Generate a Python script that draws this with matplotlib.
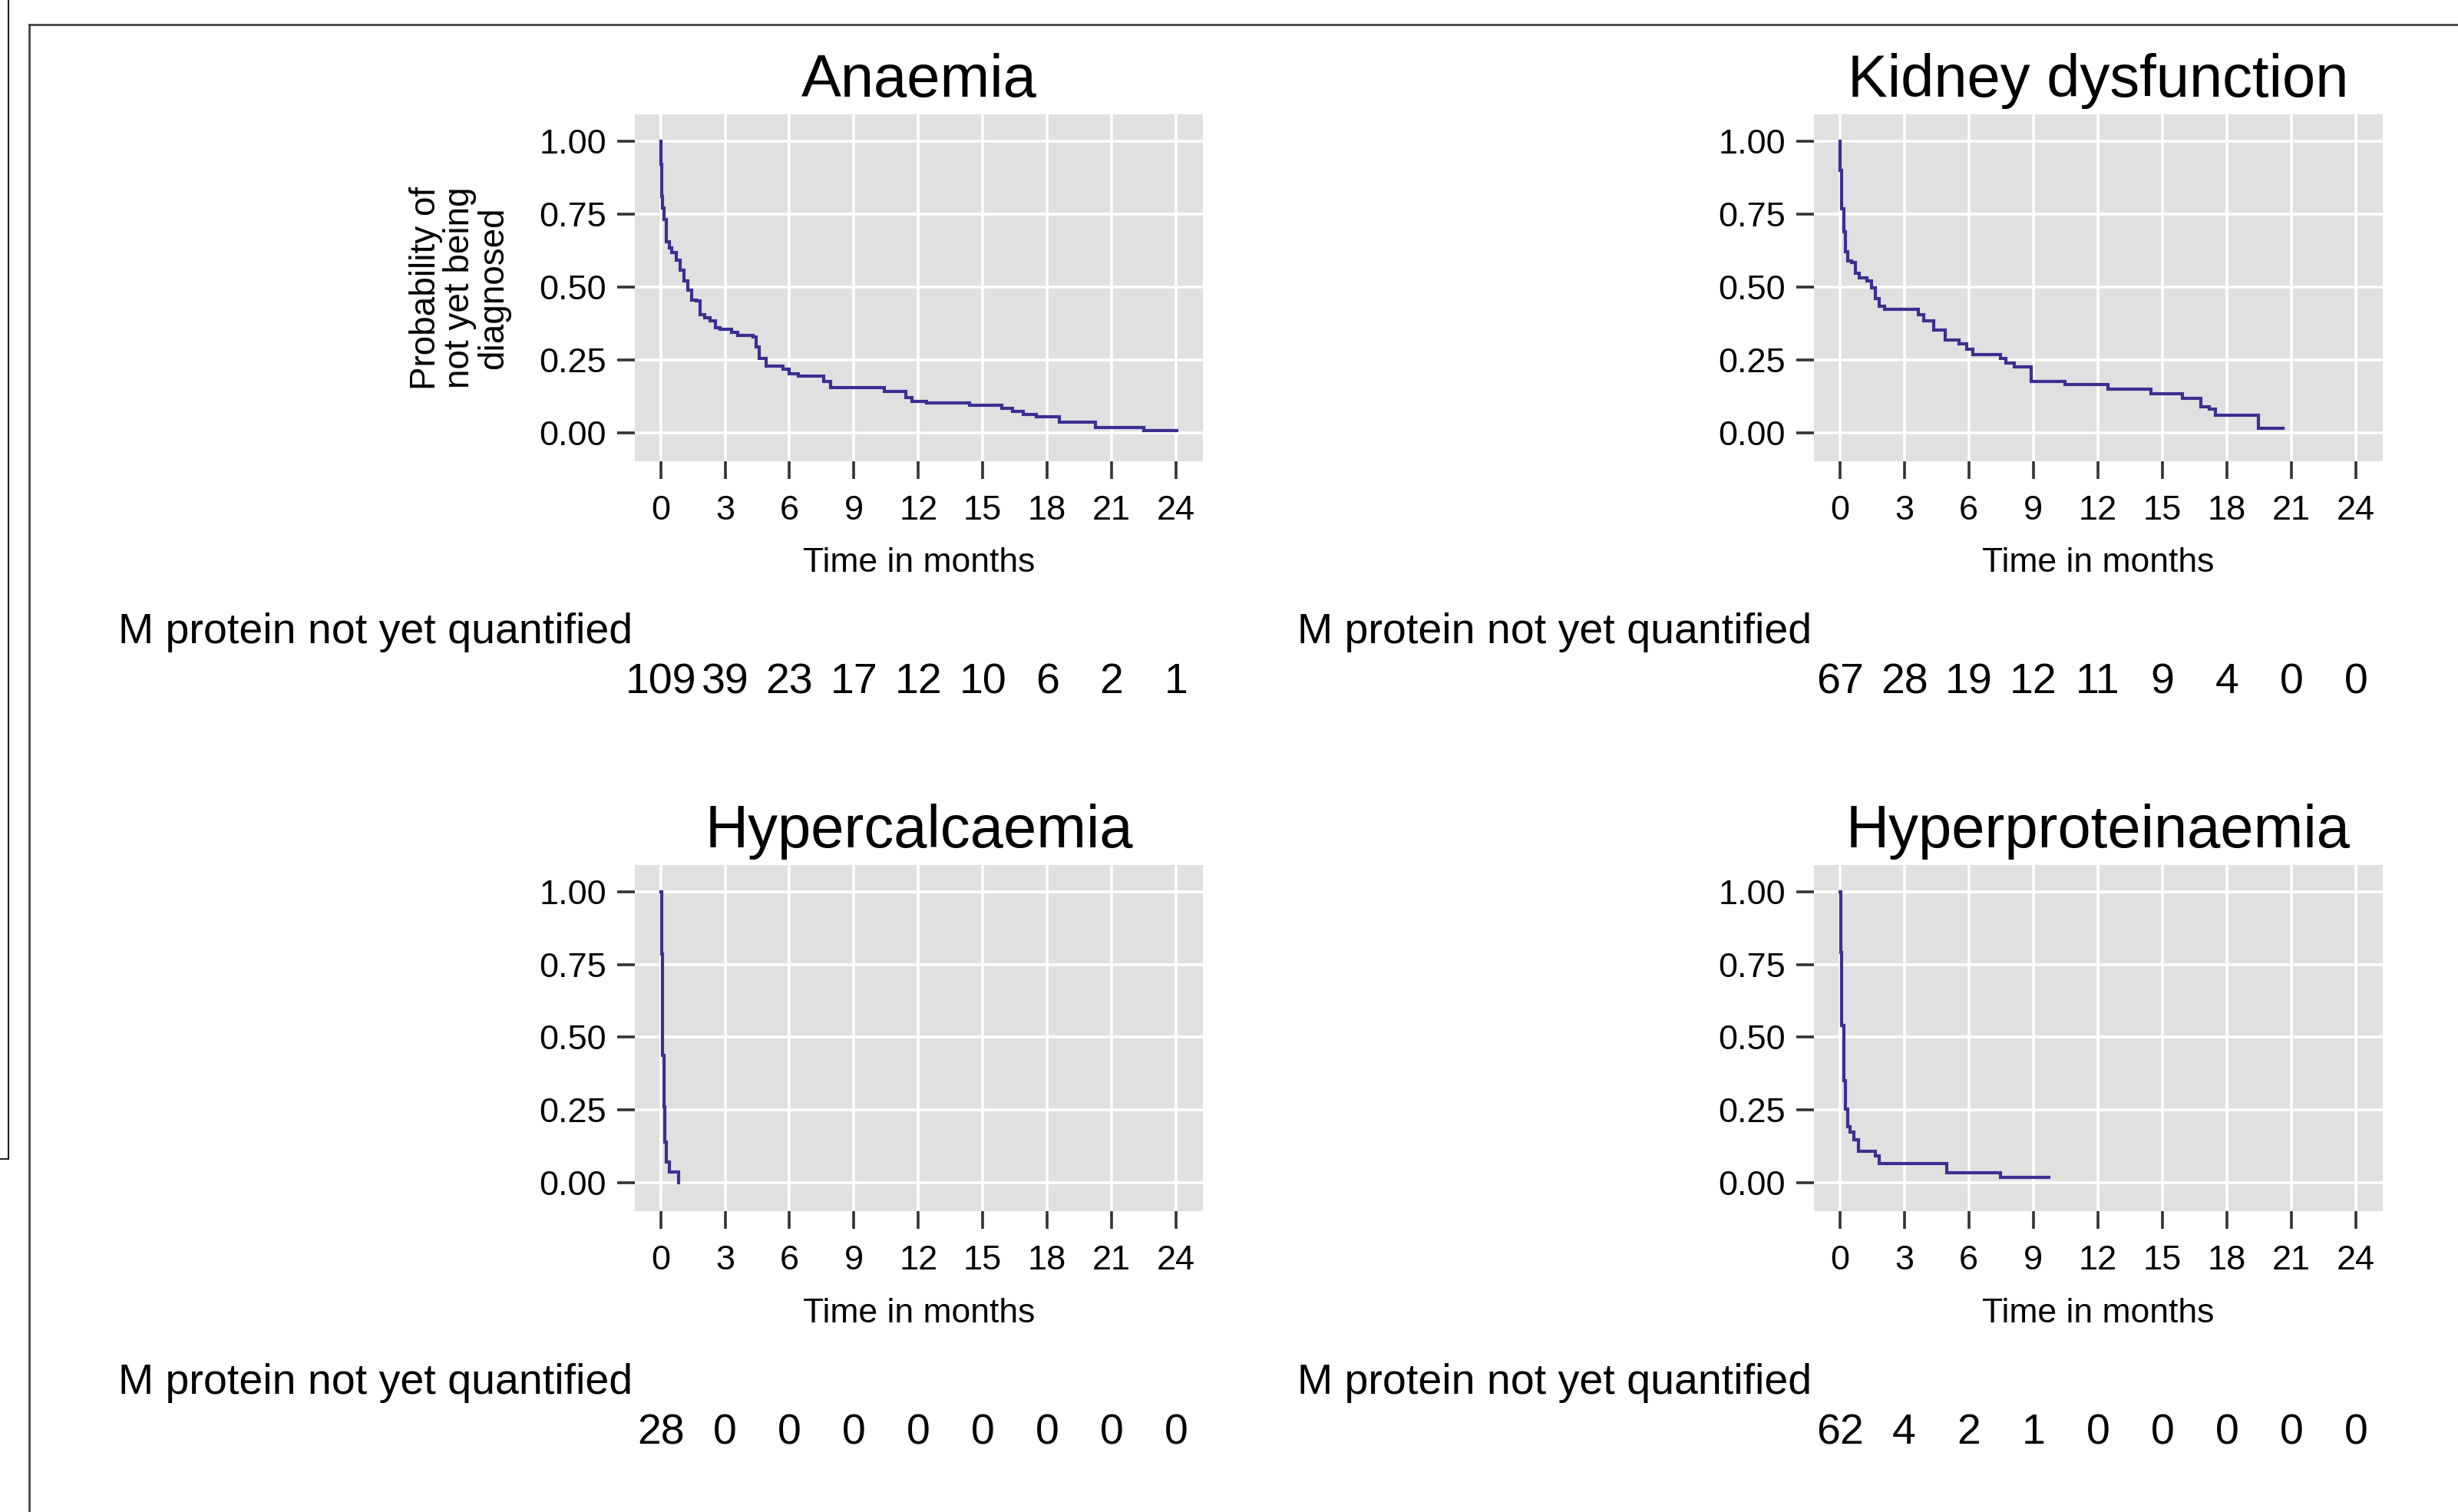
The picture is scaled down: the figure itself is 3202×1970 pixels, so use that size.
import matplotlib
matplotlib.use("Agg")
import matplotlib.pyplot as plt
from matplotlib.lines import Line2D
from matplotlib.transforms import blended_transform_factory

plt.rcParams['font.family'] = ['Liberation Sans', 'DejaVu Sans']

# ---------------- data ----------------
titles = ["Anaemia", "Kidney dysfunction", "Hypercalcaemia", "Hyperproteinaemia"]
x_ticks = [0, 3, 6, 9, 12, 15, 18, 21, 24]
y_ticks = [0.0, 0.25, 0.5, 0.75, 1.0]
y_tick_labels = ["0.00", "0.25", "0.50", "0.75", "1.00"]
risk_label = "M protein not yet quantified"
y_label = "Probability of\nnot yet being\ndiagnosed"
x_label = "Time in months"

anaemia_t = [0, 0.02, 0.04, 0.10, 0.15, 0.27, 0.40, 0.51, 0.73, 0.91,
             1.10, 1.28, 1.46, 1.65, 1.83, 2.05, 2.30, 2.55, 2.75, 3.30,
             3.60, 4.30, 4.45, 4.60, 4.90, 5.70, 6.00, 6.40, 7.60, 7.90,
             10.40, 11.40, 11.70, 12.40, 14.40, 15.90, 16.40, 16.90, 17.50, 18.55,
             20.25, 22.50, 24.05]
anaemia_s = [1.00, 0.92, 0.81, 0.77, 0.73, 0.655, 0.635, 0.618, 0.592, 0.557,
             0.52, 0.49, 0.456, 0.452, 0.404, 0.395, 0.385, 0.36, 0.355, 0.345,
             0.335, 0.328, 0.295, 0.255, 0.229, 0.218, 0.203, 0.194, 0.177, 0.156,
             0.142, 0.120, 0.107, 0.102, 0.094, 0.083, 0.074, 0.063, 0.054, 0.037,
             0.019, 0.008, 0.008]

kidney_t = [0, 0.02, 0.09, 0.18, 0.27, 0.36, 0.55, 0.73, 0.91, 1.27,
            1.46, 1.64, 1.82, 2.09, 3.64, 3.91, 4.37, 4.92, 5.55, 5.92,
            6.19, 7.47, 7.74, 8.10, 8.89, 10.47, 12.47, 14.48, 15.93, 16.79,
            17.20, 17.48, 19.45, 20.61]
kidney_s = [1.00, 0.90, 0.767, 0.69, 0.62, 0.59, 0.583, 0.548, 0.531, 0.522,
            0.496, 0.461, 0.435, 0.422, 0.404, 0.383, 0.352, 0.317, 0.304, 0.286,
            0.269, 0.256, 0.238, 0.225, 0.177, 0.164, 0.149, 0.134, 0.119, 0.090,
            0.081, 0.059, 0.016, 0.016]

hypercalc_t = [0, 0.04, 0.10, 0.15, 0.20, 0.27, 0.42, 0.82]
hypercalc_s = [1.0, 0.786, 0.437, 0.262, 0.14, 0.071, 0.036, 0.0]

hyperprot_t = [0, 0.05, 0.09, 0.18, 0.27, 0.36, 0.46, 0.64, 0.87, 1.64, 1.82, 4.97, 7.47, 9.74]
hyperprot_s = [1.0, 0.79, 0.54, 0.35, 0.253, 0.192, 0.175, 0.148, 0.109, 0.092, 0.066, 0.033, 0.017, 0.017]

anaemia_risk = [109, 39, 23, 17, 12, 10, 6, 2, 1]
kidney_risk = [67, 28, 19, 12, 11, 9, 4, 0, 0]
hypercalc_risk = [28, 0, 0, 0, 0, 0, 0, 0, 0]
hyperprot_risk = [62, 4, 2, 1, 0, 0, 0, 0, 0]

curves_t = [anaemia_t, kidney_t, hypercalc_t, hyperprot_t]
curves_s = [anaemia_s, kidney_s, hypercalc_s, hyperprot_s]
risks = [anaemia_risk, kidney_risk, hypercalc_risk, hyperprot_risk]

# ---------------- layout (pixels) ----------------
W, H = 3202, 1970
fig = plt.figure(figsize=(W / 100, H / 100), dpi=100)
fig.patch.set_facecolor('white')

def fx(x):
    return x / W

def fy(y):
    return 1 - y / H

cols = [(827, 1567), (2363, 3104)]
rows = [(149, 601), (1127, 1578)]
row_shift = [0, 978]

line_color = '#3A3090'
panel_bg = '#E0E0E0'

for i in range(4):
    r, c = divmod(i, 2)
    L, R = cols[c]
    T, B = rows[r]
    ax = fig.add_axes([fx(L), fy(B), (R - L) / W, (B - T) / H])
    ax.set_facecolor(panel_bg)
    for sp in ax.spines.values():
        sp.set_visible(False)
    ax.set_xlim(-1.2, 25.25)
    ax.set_ylim(-0.098, 1.092)
    ax.set_xticks(x_ticks)
    ax.set_xticklabels([str(v) for v in x_ticks])
    ax.set_yticks(y_ticks)
    ax.set_yticklabels(y_tick_labels)
    ax.grid(True, color='white', linewidth=2.6)
    ax.set_axisbelow(True)
    ax.tick_params(axis='both', length=16.5, width=2.6, color='#333333',
                   labelsize=32.5, labelcolor='black')
    ax.tick_params(axis='x', pad=15)
    ax.tick_params(axis='y', pad=10)

    ax.step(curves_t[i], curves_s[i], where='post', color=line_color,
            linewidth=3.0, solid_joinstyle='miter')

    cx = (L + R) / 2
    dy = row_shift[r]
    fig.text(fx(cx), fy(126 + dy), titles[i], ha='center', va='baseline',
             fontsize=56, color='black')
    fig.text(fx(cx), fy(745 + dy), x_label, ha='center', va='baseline',
             fontsize=32, color='black')
    fig.text(fx(L - 3), fy(838 + dy), risk_label, ha='right', va='baseline',
             fontsize=40, color='black')
    trans = blended_transform_factory(ax.transData, fig.transFigure)
    for xv, n in zip(x_ticks, risks[i]):
        ax.text(xv, fy(903 + dy), str(n), transform=trans, ha='center',
                va='baseline', fontsize=40, color='black', clip_on=False)

# y-axis label (only first panel)
fig.text(fx(599), fy(375), y_label, rotation=90, ha='center', va='center',
         multialignment='center', fontsize=33, linespacing=1.0, color='black')

# frame lines around the figure
fig.add_artist(Line2D([fx(11), fx(11)], [fy(0), fy(1510)], transform=fig.transFigure,
                      color='#222222', linewidth=1.5))
fig.add_artist(Line2D([fx(0), fx(11)], [fy(1510), fy(1510)], transform=fig.transFigure,
                      color='#222222', linewidth=1.5))
fig.add_artist(Line2D([fx(38), fx(38)], [fy(32), fy(H)], transform=fig.transFigure,
                      color='#444444', linewidth=2.0))
fig.add_artist(Line2D([fx(38), fx(W)], [fy(32), fy(32)], transform=fig.transFigure,
                      color='#444444', linewidth=2.0))

fig.savefig("out.png", dpi=100, facecolor='white')
